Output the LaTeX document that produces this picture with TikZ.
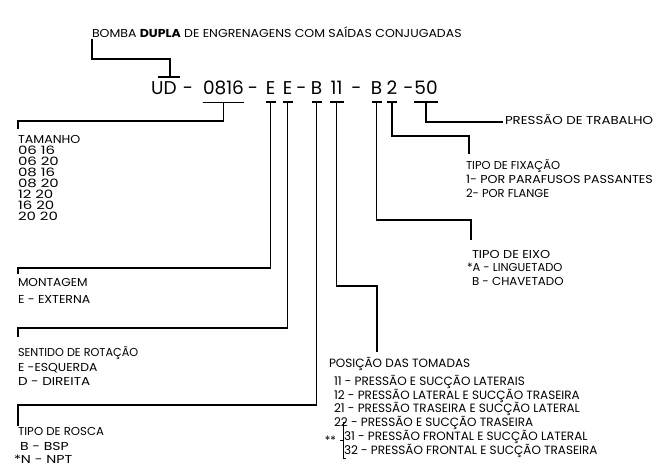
\documentclass[tikz,border=0pt]{standalone}
\usepackage{fontspec}
\usepackage{graphicx}
\setmainfont{Poppins}
\newcommand\hsc[2]{\scalebox{#1}[1]{#2}}
\begin{document}
\begin{tikzpicture}[x=1pt,y=-1pt,
  every node/.style={inner sep=0pt,outer sep=0pt},
  conn/.style={line width=1.5pt,line join=miter},
  lbl/.style={anchor=base west,font=\fontsize{11.5}{12}\selectfont},
  lblb/.style={anchor=base west,font=\fontsize{12}{12}\selectfont},
  codetxt/.style={anchor=base,font=\fontsize{18.5}{20}\selectfont}]
\useasboundingbox (0,0) rectangle (657,470);
% title
\node[lbl] (title) at (92,37.7) {\hsc{1.09}{BOMBA \textbf{DUPLA} DE ENGRENAGENS COM SAÍDAS CONJUGADAS}};
% code tokens
\node[codetxt] (cUD) at (164,95) {UD};
\node[codetxt] (cd1) at (188,95) {-};
\node[codetxt] (c0816) at (223.5,95) {0816};
\node[codetxt] (cd2) at (253,95) {-};
\node[codetxt] (cE1) at (270.5,95) {E};
\node[codetxt] (cE2) at (287.5,95) {E};
\node[codetxt] (cd3) at (301.5,95) {-};
\node[codetxt] (cB1) at (316.5,95) {B};
\node[codetxt] (c11) at (336.5,95) {11};
\node[codetxt] (cd4) at (356.5,95) {-};
\node[codetxt] (cB2) at (376.5,95) {B};
\node[codetxt] (c2) at (392,95) {2};
\node[codetxt] (cd5) at (408.5,95) {-};
\node[codetxt] (c50) at (426,95) {50};
% title connector
\coordinate (tUD) at (170,77);
\draw[conn] ([yshift=-1.5pt]title.south west) |- (tUD |- 0,59) -- (tUD);
\draw[conn] ([xshift=-12pt]tUD) -- ([xshift=10pt]tUD);
% left labels
\node[lbl] (tam) at (18,144) {\hsc{1.1}{TAMANHO}};
\foreach \t [count=\i] in {06 16,06 20,08 16,08 20,12 20,16 20,20 20}
  \node[lbl] (tam\i) at (18,144+11*\i) {\hsc{1.3}{\t}};
\node[lbl] (mont) at (18,287) {\hsc{1.06}{MONTAGEM}};
\node[lbl] (mont1) at (18,304) {\hsc{1.09}{E - EXTERNA}};
\node[lbl] (sent) at (18,357) {\hsc{0.98}{SENTIDO DE ROTAÇÃO}};
\node[lbl] (sent1) at (18,372) {\hsc{1.08}{E -ESQUERDA}};
\node[lbl] (sent2) at (18,386) {\hsc{1.18}{D - DIREITA}};
\node[lbl] (rosc) at (18,436) {\hsc{1.02}{TIPO DE ROSCA}};
\node[lbl] (rosc1) at (20,451) {\hsc{1.22}{B - BSP}};
\node[lbl] (rosc2) at (14,464) {\hsc{1.24}{*N - NPT}};
% right labels
\node[lbl] (pres) at (505,125) {\hsc{1.16}{PRESSÃO DE TRABALHO}};
\node[lbl] (fix) at (466,169.5) {TIPO DE FIXAÇÃO};
\node[lbl] (fix1) at (466,184) {\hsc{1.1}{1- POR PARAFUSOS PASSANTES}};
\node[lbl] (fix2) at (466,198) {2- POR FLANGE};
\node[lbl] (eixo) at (472,259) {\hsc{1.12}{TIPO DE EIXO}};
\node[lbl] (eixo1) at (467,272) {*A - LINGUETADO};
\node[lbl] (eixo2) at (472,286) {\hsc{1.03}{B - CHAVETADO}};
\node[lblb] (pos) at (329,367.5) {POSIÇÃO DAS TOMADAS};
\node[lblb] (pos1) at (334,385.5) {11 - PRESSÃO E SUCÇÃO LATERAIS};
\node[lblb] (pos2) at (334,399.5) {12 - PRESSÃO LATERAL E SUCÇÃO TRASEIRA};
\node[lblb] (pos3) at (334,412.5) {21 - PRESSÃO TRASEIRA E SUCÇÃO LATERAL};
\node[lblb] (pos4) at (334,426.5) {22 - PRESSÃO E SUCÇÃO TRASEIRA};
\node[lblb] (pos5) at (344,440.5) {31 - PRESSÃO FRONTAL E SUCÇÃO LATERAL};
\node[lblb] (pos6) at (344,454.5) {32 - PRESSÃO FRONTAL E SUCÇÃO TRASEIRA};
\node[lbl,anchor=base east] (star) at (336,445) {**};
\draw[line width=0.9pt] ([xshift=2pt,yshift=8pt]pos5.north west) -- ++(-3,0) coordinate (bk1) -- (bk1 |- star.west) -- ++(-3,0) -- ++(3,0) -- ([xshift=-1pt,yshift=-1pt]pos6.south west) -- ++(3,0);
% tick coordinates under tokens
\foreach \n in {c0816,cE1,cE2,cB1,c11,cB2,c2,c50}
  \coordinate (k\n) at ([yshift=-7pt]\n.south);
% bars
\draw[conn] ([xshift=-0.5pt]kc0816 -| c0816.west) -- ([xshift=0.5pt]kc0816 -| c0816.east);
\draw[conn] ([xshift=-5pt]kcE1) -- ([xshift=5pt]kcE1);
\draw[conn] ([xshift=-5pt]kcE2) -- ([xshift=5pt]kcE2);
\draw[conn] ([xshift=-5pt]kcB1) -- ([xshift=5pt]kcB1);
\draw[conn] ([xshift=-7pt]kc11) -- ([xshift=7pt]kc11);
\draw[conn] ([xshift=-5pt]kcB2) -- ([xshift=5pt]kcB2);
\draw[conn] ([xshift=-5pt]kc2) -- ([xshift=5pt]kc2);
\draw[conn] ([xshift=-12pt]kc50) -- ([xshift=12pt]kc50);
% stems
\coordinate (jTam) at (18,121);
\coordinate (jMont) at (18,268);
\coordinate (jSent) at (18,328);
\coordinate (jRosc) at (18,405);
\coordinate (jPos) at (377,286);
\coordinate (jEixo) at (471,220);
\coordinate (jFix) at (469,136);
\coordinate (jPres) at (427,122);
\draw[conn] (kc0816) |- (jTam) -- ++(0,8);
\draw[conn] (kcE1) |- (jMont) -- ++(0,6);
\draw[conn] (kcE2) |- (jSent) -- ++(0,9);
\draw[conn] (kcB1) |- (jRosc) -- ++(0,21);
\draw[conn] (kc11) |- (jPos) -- ++(0,66);
\draw[conn] (kcB2) |- (jEixo) -- ++(0,20);
\draw[conn] (kc2) |- (jFix) -- ++(0,18);
\draw[conn] (kc50) |- ([xshift=-2pt]jPres -| pres.west);
\end{tikzpicture}
\end{document}
